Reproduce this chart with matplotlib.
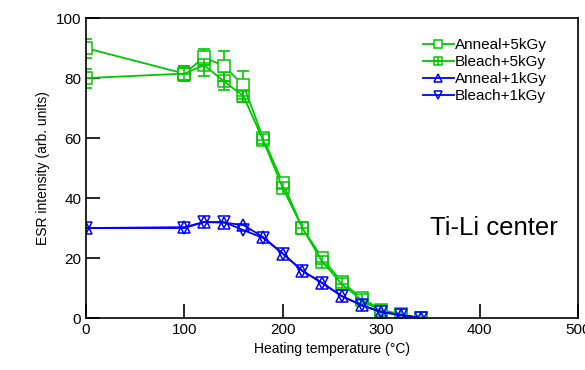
import numpy as np
import matplotlib.pyplot as plt
from matplotlib.path import Path

plt.rcParams['font.family'] = ['Liberation Sans', 'DejaVu Sans']

# heating temperatures (C)
temp = [0, 100, 120, 140, 160, 180, 200, 220, 240, 260, 280, 300, 320, 340]

anneal_5k = [90, 81.5, 87, 84, 77.7, 60, 45, 30, 20, 12, 6.7, 2.7, 1.3, 0]
bleach_5k = [80, 81.5, 84.3, 79, 74, 59.3, 43.3, 30, 18.8, 11.3, 6, 2.3, 1, 0]
anneal_1k = [30, 30.3, 32, 31.8, 31, 27, 21.5, 15.7, 11.7, 7.3, 4.3, 2, 1, 0]
bleach_1k = [30, 30, 32, 32, 29.3, 26.7, 21.5, 15.7, 11.7, 7.3, 4.3, 2, 1, 0]

# error bars (only first five points)
err_temp = [0, 100, 120, 140, 160]
anneal_5k_err = [3.2, 2.5, 2.7, 5, 4.7]
bleach_5k_err = [3.2, 2.5, 3.5, 3, 2]

green = '#00c800'
blue = '#0000ff'

# square with a cross inside
sq_plus = Path(
    [(-1, -1), (1, -1), (1, 1), (-1, 1), (-1, -1),
     (0, -1), (0, 1), (-1, 0), (1, 0)],
    [Path.MOVETO, Path.LINETO, Path.LINETO, Path.LINETO, Path.CLOSEPOLY,
     Path.MOVETO, Path.LINETO, Path.MOVETO, Path.LINETO])

fig = plt.figure(figsize=(5.85, 3.7), dpi=100)
ax = fig.add_axes([0.147, 0.1405, 0.841, 0.8105])

ms = 9
ax.errorbar(err_temp, anneal_5k[:5], yerr=anneal_5k_err, fmt='none',
            ecolor=green, elinewidth=1.2, capsize=4, capthick=1.2)
ax.errorbar(err_temp, bleach_5k[:5], yerr=bleach_5k_err, fmt='none',
            ecolor=green, elinewidth=1.2, capsize=4, capthick=1.2)

ax.plot(temp, anneal_5k, color=green, lw=1.3, marker='s', ms=ms,
        mfc='white', mec=green, mew=1.1, label='Anneal+5kGy')
ax.plot(temp, bleach_5k, color=green, lw=1.3, marker=sq_plus, ms=ms,
        mfc='none', mec=green, mew=1.1, label='Bleach+5kGy')
ax.plot(temp, anneal_1k, color=blue, lw=1.3, marker='^', ms=ms,
        mfc='none', mec=blue, mew=1.1, label='Anneal+1kGy')
ax.plot(temp, bleach_1k, color=blue, lw=1.3, marker='v', ms=ms,
        mfc='none', mec=blue, mew=1.1, label='Bleach+1kGy')

ax.set_xlim(0, 500)
ax.set_ylim(0, 100)
ax.set_xticks([0, 100, 200, 300, 400, 500])
ax.set_yticks([0, 20, 40, 60, 80, 100])
ax.tick_params(direction='in', length=10, width=1.2, labelsize=11,
               top=False, right=False)
for s in ax.spines.values():
    s.set_linewidth(1.2)

ax.set_xlabel('Heating temperature (°C)', fontsize=10)
ax.set_ylabel('ESR intensity (arb. units)', fontsize=10)

ax.text(350, 30, 'Ti-Li center', fontsize=18.5, va='center')

leg = ax.legend(loc='upper right', bbox_to_anchor=(0.965, 0.98), frameon=False,
                fontsize=11, handlelength=2.0, handletextpad=0.1,
                labelspacing=0.2, markerscale=0.65)

fig.savefig('out.png', dpi=100)
